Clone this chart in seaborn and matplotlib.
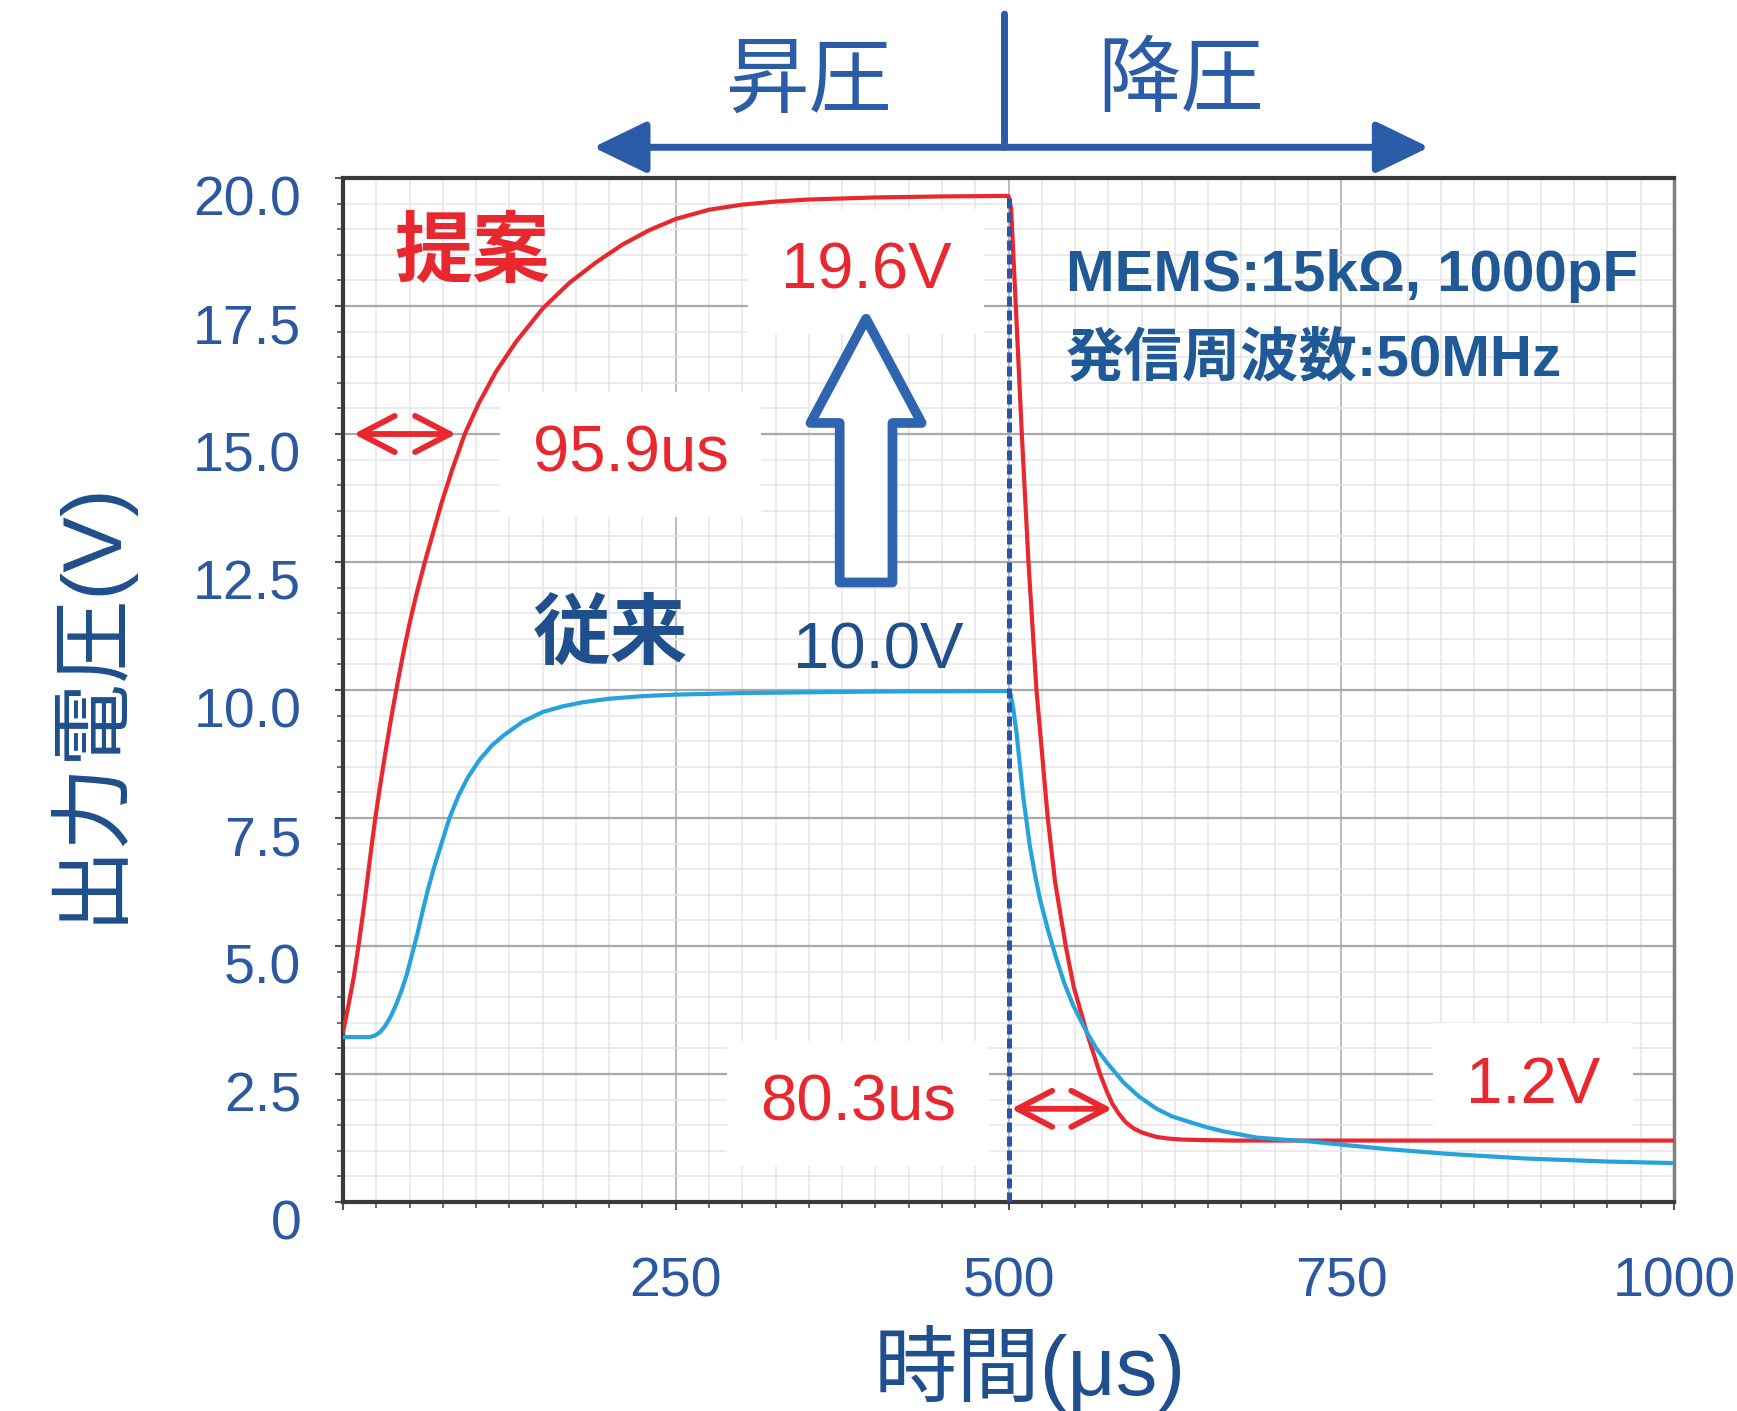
import numpy as np
import pandas as pd
import matplotlib
matplotlib.use("Agg")
import matplotlib.pyplot as plt
import matplotlib.transforms as mtransforms
from matplotlib.ticker import MultipleLocator, FixedLocator, FixedFormatter
import seaborn as sns

# ---------------- data ----------------
# 提案 (proposed) output voltage
t_prop = [0, 4, 8, 11.5, 15, 18, 21, 24, 28, 32, 36, 40, 45, 50, 55, 61.5, 68,
          74, 82, 91.5, 102, 115, 130, 150, 170, 190, 210, 230, 250, 275, 300,
          325, 350, 400, 450, 500, 502, 504, 505.5, 510, 515, 521, 529.5, 535,
          543, 549, 558.7, 568.8, 574, 578, 583, 588, 593.8, 600, 606, 611.4,
          620, 630, 645, 670, 700, 800, 900, 1000]
v_prop = [3.32, 3.83, 4.38, 4.98, 5.63, 6.23, 6.85, 7.45, 8.15, 8.8, 9.42, 10.0,
          10.68, 11.3, 11.85, 12.5, 13.1, 13.65, 14.3, 15.0, 15.6, 16.22, 16.8,
          17.45, 17.95, 18.35, 18.7, 18.98, 19.2, 19.38, 19.48, 19.54, 19.58,
          19.62, 19.64, 19.65, 19.4, 18.3, 17.5, 15.0, 12.5, 10.0, 7.5, 6.25,
          5.0, 4.2, 3.32, 2.5, 2.15, 1.92, 1.72, 1.56, 1.44, 1.36, 1.31, 1.27,
          1.24, 1.22, 1.21, 1.2, 1.2, 1.2, 1.2, 1.2]
# 従来 (conventional) output voltage
t_conv = [0, 20, 24, 28, 32, 36, 40, 44, 48, 52, 56, 60, 64, 68, 74, 80, 87, 94,
          103, 112, 121, 135, 150, 165, 180, 200, 225, 250, 300, 400, 500,
          501.5, 503.5, 506, 508.5, 511, 516, 520, 523.6, 530, 536, 542, 548.6,
          558.7, 566, 573.7, 586.2, 598, 611.3, 623, 636.3, 649, 661.4, 686,
          705, 724, 750, 786, 830, 888, 950, 1000]
v_conv = [3.22, 3.22, 3.25, 3.32, 3.45, 3.63, 3.86, 4.13, 4.45, 4.85, 5.25, 5.7,
          6.12, 6.5, 7.0, 7.5, 7.95, 8.3, 8.65, 8.92, 9.12, 9.38, 9.57, 9.68,
          9.76, 9.83, 9.88, 9.91, 9.94, 9.97, 9.98, 9.93, 9.65, 9.17, 8.55,
          7.93, 6.96, 6.38, 5.92, 5.28, 4.75, 4.27, 3.84, 3.32, 3.0, 2.73, 2.34,
          2.06, 1.82, 1.67, 1.56, 1.46, 1.38, 1.26, 1.22, 1.19, 1.12, 1.03,
          0.94, 0.85, 0.79, 0.76]

series_names = ["提案", "従来"]
y_ticks = [0, 2.5, 5.0, 7.5, 10.0, 12.5, 15.0, 17.5, 20.0]
y_ticklabels = ["0", "2.5", "5.0", "7.5", "10.0", "12.5", "15.0", "17.5", "20.0"]
x_ticks = [0, 250, 500, 750, 1000]
x_ticklabels = ["", "250", "500", "750", "1000"]
switch_time = 500
rise_time_label = "95.9us"
fall_time_label = "80.3us"
peak_label = "19.6V"
conv_label = "10.0V"
low_label = "1.2V"
info_lines = ["MEMS:15kΩ, 1000pF", "発信周波数:50MHz"]

# ---------------- style ----------------
sns.set_theme(style="white")
plt.rcParams["font.family"] = ["Liberation Sans", "Noto Sans CJK JP", "DejaVu Sans"]
plt.rcParams["axes.unicode_minus"] = False

RED = "#e8282e"
CYAN = "#27a2dc"
NAVY = "#1f4f8c"
TICKBLUE = "#2b58a2"
ARROWBLUE = "#2b5ca8"

df = pd.concat([
    pd.DataFrame({"t": t_prop, "v": v_prop, "series": series_names[0]}),
    pd.DataFrame({"t": t_conv, "v": v_conv, "series": series_names[1]}),
])

fig = plt.figure(figsize=(17.37, 14.11), dpi=100)
ax = fig.add_axes([343 / 1737, 1 - 1202 / 1411, 1331 / 1737, 1024 / 1411])

sns.lineplot(data=df, x="t", y="v", hue="series",
             palette={series_names[0]: RED, series_names[1]: CYAN},
             estimator=None, sort=False, lw=3.0, ax=ax, legend=False, zorder=5)
for ln in ax.lines:
    ln.set_solid_joinstyle("round")

ax.set_xlim(0, 1000)
ax.set_ylim(0, 20)

# grid
ax.xaxis.set_major_locator(FixedLocator(x_ticks))
ax.xaxis.set_major_formatter(FixedFormatter(x_ticklabels))
ax.yaxis.set_major_locator(FixedLocator(y_ticks))
ax.yaxis.set_major_formatter(FixedFormatter(y_ticklabels))
ax.xaxis.set_minor_locator(MultipleLocator(25))
ax.yaxis.set_minor_locator(MultipleLocator(0.5))
ax.set_axisbelow(True)
ax.grid(which="minor", color="#e6e6e6", lw=1.1)
ax.grid(which="major", axis="y", color="#a9a9a9", lw=1.6)
ax.grid(which="major", axis="x", color="#b0b0b0", lw=1.2)

for side in ["top", "left", "bottom"]:
    ax.spines[side].set_color("#3a3a3a")
    ax.spines[side].set_linewidth(3)
ax.spines["right"].set_color("#808080")
ax.spines["right"].set_linewidth(2.5)

ax.tick_params(axis="both", which="major", direction="out", length=6, width=1.5,
               color="#555555", left=True, bottom=True)
ax.tick_params(axis="both", which="minor", direction="out", length=4, width=1.2,
               color="#555555", left=True, bottom=True)
ax.tick_params(axis="y", which="major", labelsize=40, labelcolor=TICKBLUE, pad=24)
ax.tick_params(axis="x", which="major", labelsize=40, labelcolor=TICKBLUE, pad=33)

offset = mtransforms.ScaledTranslation(0, -0.18, fig.dpi_scale_trans)
for lab in ax.get_yticklabels():
    lab.set_transform(lab.get_transform() + offset)

ax.set_xlabel("時間(μs)", fontsize=60, color=NAVY)
ax.set_ylabel("出力電圧(V)", fontsize=60, color=NAVY)
ax.xaxis.set_label_coords(0.516, -0.12)
ax.yaxis.set_label_coords(-0.16, 0.49)

# dashed switch line
v_peak = max(v_prop)
ax.axvline(switch_time, ymin=0, ymax=v_peak / 20, color="#2a55ad", lw=3.6,
           ls=(0, (2.0, 0.8)), zorder=6)

# ---------------- annotations ----------------
ax.text(97, 18.48, series_names[0], color=RED, fontsize=56, fontweight="bold",
        ha="center", va="center", zorder=7)
ax.text(201, 11.03, series_names[1], color=NAVY, fontsize=56, fontweight="bold",
        ha="center", va="center", zorder=7)

box = dict(boxstyle="square,pad=0.5", fc="white", ec="none")
ax.text(393, 18.18, peak_label, color=RED, fontsize=47, ha="center", va="center",
        bbox=box, zorder=3)
ax.text(216, 14.6, rise_time_label, color=RED, fontsize=47, ha="center",
        va="center", bbox=box, zorder=3)
ax.text(402, 10.76, conv_label, color=NAVY, fontsize=47, ha="center",
        va="center", zorder=3)
ax.text(387, 1.92, fall_time_label, color=RED, fontsize=47, ha="center",
        va="center", bbox=box, zorder=3)
ax.text(894, 2.27, low_label, color=RED, fontsize=47, ha="center", va="center",
        bbox=box, zorder=3)
ax.text(543, 18.09, info_lines[0], color="#1f5a96", fontsize=42,
        fontweight="bold", ha="left", va="center", zorder=7)
ax.text(543, 16.46, info_lines[1], color="#1f5a96", fontsize=42,
        fontweight="bold", ha="left", va="center", zorder=7)

# red double arrows
red_arrow = dict(arrowstyle="<->,head_length=0.5,head_width=0.26",
                 color=RED, lw=4.2, shrinkA=0, shrinkB=0, mutation_scale=50)
ax.annotate("", xy=(85, 15.0), xytext=(8, 15.0), arrowprops=red_arrow, zorder=7)
ax.annotate("", xy=(578, 1.82), xytext=(502, 1.82), arrowprops=red_arrow, zorder=7)

# hollow up arrow
ax.annotate("", xy=(393, 17.25), xytext=(393, 12.1),
            arrowprops=dict(arrowstyle="simple,head_length=0.75,head_width=0.8,tail_width=0.38",
                            fc="white", ec="#2e64b0", lw=7, shrinkA=0, shrinkB=0,
                            mutation_scale=100), zorder=7)

# top: boost / buck double arrow
ax.annotate("", xy=(188, 20.6), xytext=(816, 20.6), annotation_clip=False,
            arrowprops=dict(arrowstyle="<|-|>,head_length=0.33,head_width=0.16",
                            fc=ARROWBLUE, ec=ARROWBLUE, lw=5, shrinkA=0,
                            shrinkB=0, mutation_scale=100))
ax.annotate("", xy=(497, 23.2), xytext=(497, 20.6), annotation_clip=False,
            arrowprops=dict(arrowstyle="-", color=ARROWBLUE, lw=5,
                            shrinkA=0, shrinkB=0))
ax.text(350, 21.85, "昇圧", color=ARROWBLUE, fontsize=60, ha="center",
        va="center", clip_on=False)
ax.text(629, 21.85, "降圧", color=ARROWBLUE, fontsize=60, ha="center",
        va="center", clip_on=False)

fig.savefig("out.png", dpi=100)
